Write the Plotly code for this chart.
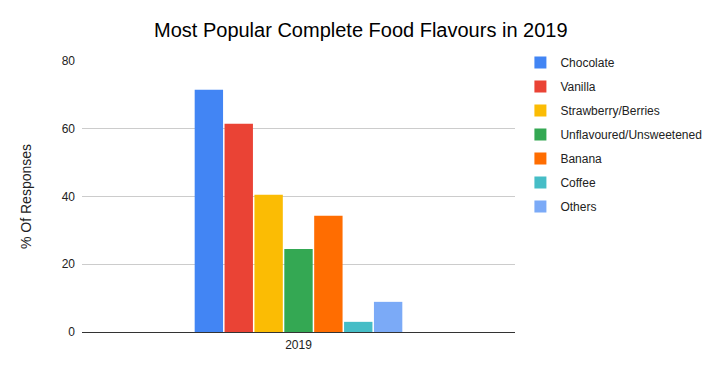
import plotly.graph_objects as go

categories = ["2019"]
flavours = ["Chocolate", "Vanilla", "Strawberry/Berries", "Unflavoured/Unsweetened",
            "Banana", "Coffee", "Others"]
values = [71.5, 61.5, 40.5, 24.5, 34.3, 3.0, 8.9]
colors = ["#4285f4", "#ea4335", "#fbbc04", "#34a853", "#ff6d01", "#46bdc6", "#7baaf7"]
y_ticks = [0, 20, 40, 60, 80]

fig = go.Figure()
for name, v, c in zip(flavours, values, colors):
    fig.add_trace(go.Bar(x=categories, y=[v], name=name, marker_color=c,
                         marker_line_width=0, legendgroup=name))

fig.update_layout(
    width=720, height=371,
    margin=dict(l=74, r=213, t=53, b=47),
    paper_bgcolor="white", plot_bgcolor="white",
    font=dict(family="Liberation Sans, Arial, sans-serif", size=12, color="#222"),
    title=dict(text="Most Popular Complete Food Flavours in 2019",
               font=dict(size=20, color="#000"), x=0.49, xanchor="center",
               y=0.94, yanchor="middle"),
    barmode="group", bargap=0.517, bargroupgap=0.05,
    legend=dict(x=1.0125, xanchor="left", y=1.048, yanchor="top",
                font=dict(size=12, color="#222"), tracegroupgap=5,
                traceorder="grouped"),
    showlegend=True,
)
fig.update_xaxes(showgrid=False, showline=False, ticks="",
                 tickfont=dict(size=12, color="#222"), ticklabelstandoff=4)
fig.update_yaxes(range=[0, 80], tickvals=y_ticks, showgrid=True, gridcolor="#cccccc",
                 zeroline=True, zerolinecolor="#333333", zerolinewidth=1,
                 title=dict(text="% Of Responses", font=dict(size=14, color="#222"),
                            standoff=26),
                 tickfont=dict(size=12, color="#222"), ticks="", ticklabelstandoff=6)

fig.write_html("out.html")
